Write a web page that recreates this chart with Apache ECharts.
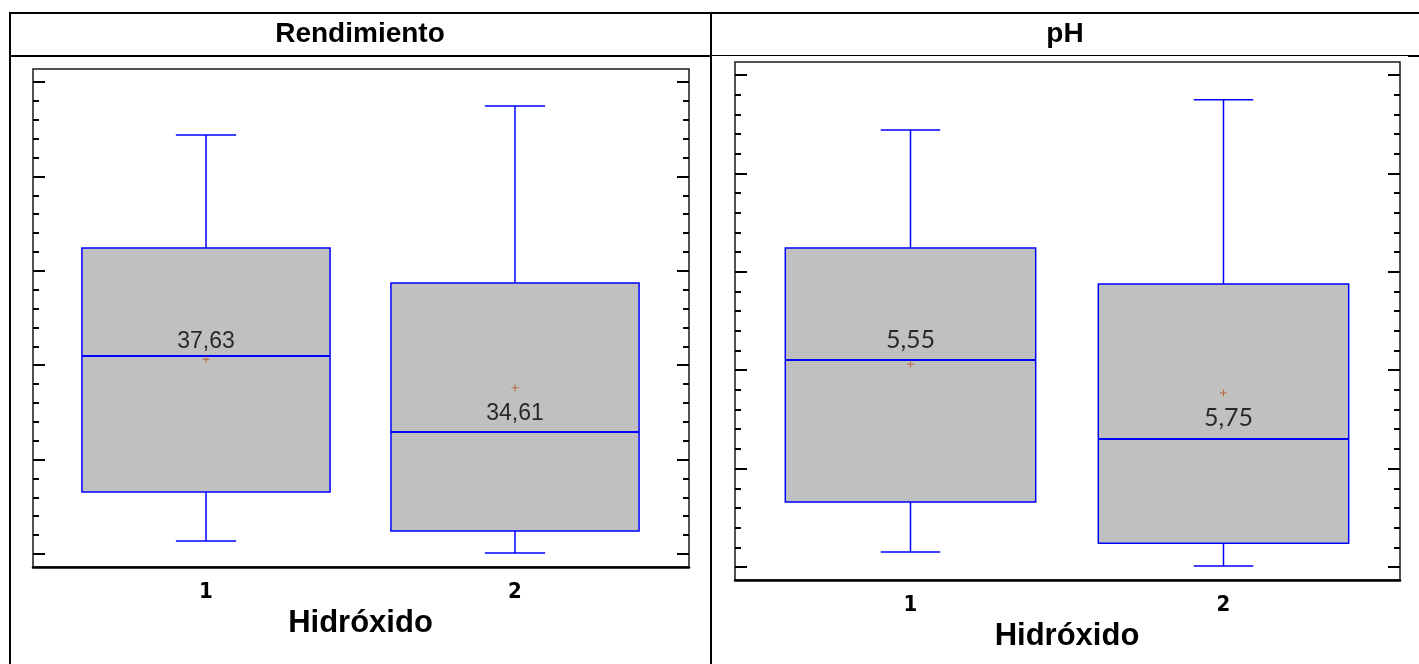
<!DOCTYPE html>
<html>
<head>
<meta charset="utf-8">
<script src="https://cdn.jsdelivr.net/npm/echarts@6/dist/echarts.min.js"></script>
<style>
  html, body { margin: 0; padding: 0; background: #ffffff; }
  #chart { width: 1419px; height: 664px; }
</style>
</head>
<body>
<div id="chart"></div>
<script>
// Groups on the horizontal axis
const hydroxides = ['1', '2'];

// Rendimiento: five-number summary per group, plus the group means
const rendLow    = [18.38, 17.11];
const rendQ1     = [23.57, 19.44];
const rendMedian = [37.97, 29.92];
const rendQ3     = [49.42, 45.71];
const rendHigh   = [61.39, 64.46];
const rendMean   = [37.63, 34.61];

// pH: five-number summary per group, plus the group means
const phLow    = [4.596, 4.525];
const phQ1     = [4.850, 4.641];
const phMedian = [5.572, 5.170];
const phQ3     = [6.141, 5.958];
const phHigh   = [6.741, 6.894];
const phMean   = [5.55, 5.404];
// Annotations written next to the pH mean markers
const phNotes  = ['5,55', '5,75'];

// Value-axis ranges (unlabelled scales, ticks only)
const rendRange = [17, 67, 10];
const phRange   = [4.52, 7.02, 0.5];

const panelTitles = ['Rendimiento', 'pH'];
const xTitle = 'Hidróxido';

const BLUE = '#0000ff';
const BOX_FILL = '#c0c0c0';
const MEAN_COLOR = '#b4541e';

function toComma(v) { return v.toFixed(2).replace('.', ','); }

function boxRows(low, q1, med, q3, high) {
  return hydroxides.map((c, i) => [i, low[i], q1[i], med[i], q3[i], high[i]]);
}

// Box-and-whisker drawn with short whisker caps
function boxRenderer(boxRatio, capRatio) {
  return function (params, api) {
    const i = api.value(0);
    const lo = api.coord([i, api.value(1)]);
    const q1 = api.coord([i, api.value(2)]);
    const md = api.coord([i, api.value(3)]);
    const q3 = api.coord([i, api.value(4)]);
    const hi = api.coord([i, api.value(5)]);
    const band = api.size([1, 0])[0];
    const hw = band * boxRatio / 2;
    const cw = band * capRatio / 2;
    const cx = md[0];
    const ln = { stroke: BLUE, lineWidth: 1.5 };
    return {
      type: 'group',
      children: [
        { type: 'line', shape: { x1: cx, y1: hi[1], x2: cx, y2: q3[1] }, style: ln },
        { type: 'line', shape: { x1: cx, y1: q1[1], x2: cx, y2: lo[1] }, style: ln },
        { type: 'line', shape: { x1: cx - cw, y1: hi[1], x2: cx + cw, y2: hi[1] }, style: ln },
        { type: 'line', shape: { x1: cx - cw, y1: lo[1], x2: cx + cw, y2: lo[1] }, style: ln },
        { type: 'rect', shape: { x: cx - hw, y: q3[1], width: hw * 2, height: q1[1] - q3[1] },
          style: { fill: BOX_FILL, stroke: BLUE, lineWidth: 1.5 } },
        { type: 'line', shape: { x1: cx - hw, y1: md[1], x2: cx + hw, y2: md[1] },
          style: { stroke: BLUE, lineWidth: 2 } }
      ]
    };
  };
}

const plusSymbol = 'path://M3,0L4,0L4,3L7,3L7,4L4,4L4,7L3,7L3,4L0,4L0,3L3,3Z';

function hiddenValueAxis(grid, extra) {
  return Object.assign({
    type: 'value', gridIndex: grid, show: true,
    axisLine: { show: false }, axisTick: { show: false },
    axisLabel: { show: false }, splitLine: { show: false }
  }, extra || {});
}

function tickAxis(grid, range, position) {
  return {
    type: 'value', gridIndex: grid, position: position,
    min: range[0], max: range[1], interval: range[2],
    axisLine: { show: false },
    axisLabel: { show: false },
    splitLine: { show: false },
    axisTick: { show: true, inside: true, length: 12, lineStyle: { color: '#000', width: 2 } },
    minorTick: { show: true, splitNumber: 5, length: 6, lineStyle: { color: '#000', width: 2 } }
  };
}

function categoryAxis(grid, labelMargin, nameGap) {
  return {
    type: 'category', gridIndex: grid, data: hydroxides, boundaryGap: true,
    axisLine: { show: false }, axisTick: { show: false }, splitLine: { show: false },
    axisLabel: {
      margin: labelMargin, color: '#000', fontSize: 22, fontWeight: 'bold',
      fontFamily: '"Liberation Sans Narrow", "DejaVu Sans Condensed", "Liberation Sans", sans-serif'
    },
    name: xTitle, nameLocation: 'middle', nameGap: nameGap,
    nameTextStyle: { color: '#000', fontSize: 31, fontWeight: 'bold',
      fontFamily: '"Liberation Sans", Arial, sans-serif' }
  };
}

const frameStyle = { show: true, borderColor: '#1a1a1a', borderWidth: 1.5, backgroundColor: 'transparent' };

const option = {
  backgroundColor: '#ffffff',
  animation: false,
  grid: [
    // Rendimiento panel: frame, tick band, data band
    Object.assign({ left: 33, top: 69, width: 656, height: 498 }, frameStyle),
    { left: 33, top: 82, width: 656, height: 472, show: false },
    { left: 51.5, top: 82, width: 618, height: 472, show: false },
    // pH panel
    Object.assign({ left: 735, top: 62, width: 665, height: 518 }, frameStyle),
    { left: 735, top: 75, width: 665, height: 492, show: false },
    { left: 754, top: 75, width: 626, height: 492, show: false }
  ],
  xAxis: [
    hiddenValueAxis(0, { position: 'bottom', axisLine: { show: true, onZero: false, lineStyle: { color: '#000', width: 2.5 } } }),
    hiddenValueAxis(1),
    categoryAxis(2, 27, 49),
    hiddenValueAxis(3, { position: 'bottom', axisLine: { show: true, onZero: false, lineStyle: { color: '#000', width: 2.5 } } }),
    hiddenValueAxis(4),
    categoryAxis(5, 27, 48)
  ],
  yAxis: [
    hiddenValueAxis(0),
    tickAxis(1, rendRange, 'left'),
    tickAxis(1, rendRange, 'right'),
    hiddenValueAxis(2, { min: rendRange[0], max: rendRange[1], interval: rendRange[2] }),
    hiddenValueAxis(3),
    tickAxis(4, phRange, 'left'),
    tickAxis(4, phRange, 'right'),
    hiddenValueAxis(5, { min: phRange[0], max: phRange[1], interval: phRange[2] })
  ],
  series: [
    {
      name: panelTitles[0], type: 'custom', xAxisIndex: 2, yAxisIndex: 3,
      renderItem: boxRenderer(0.803, 0.195),
      encode: { x: 0, y: [1, 2, 3, 4, 5] },
      data: boxRows(rendLow, rendQ1, rendMedian, rendQ3, rendHigh),
      z: 2
    },
    {
      type: 'scatter', xAxisIndex: 2, yAxisIndex: 3,
      symbol: plusSymbol, symbolSize: 7,
      itemStyle: { color: MEAN_COLOR },
      data: rendMean.map((v, i) => ({
        value: [i, v],
        label: i === 0 ? { position: 'top', distance: 3 } : { position: 'bottom', distance: 11 }
      })),
      label: {
        show: true, color: '#000', fontSize: 23,
        fontFamily: '"Liberation Sans", Arial, sans-serif',
        formatter: p => toComma(p.value[1])
      },
      z: 5
    },
    {
      name: panelTitles[1], type: 'custom', xAxisIndex: 5, yAxisIndex: 7,
      renderItem: boxRenderer(0.8, 0.19),
      encode: { x: 0, y: [1, 2, 3, 4, 5] },
      data: boxRows(phLow, phQ1, phMedian, phQ3, phHigh),
      z: 2
    },
    {
      type: 'scatter', xAxisIndex: 5, yAxisIndex: 7,
      symbol: plusSymbol, symbolSize: 7,
      itemStyle: { color: MEAN_COLOR },
      data: phMean.map((v, i) => ({
        value: [i, v],
        label: i === 0 ? { position: 'top', distance: 8 } : { position: 'bottom', distance: 9, offset: [5, 0] }
      })),
      label: {
        show: true, color: '#000', fontSize: 25,
        fontFamily: 'Lato, "Open Sans", sans-serif',
        formatter: p => phNotes[p.dataIndex]
      },
      z: 5
    }
  ],
  graphic: [
    // Table rules around the two panels
    { type: 'line', shape: { x1: 10, y1: 12, x2: 10, y2: 664 }, style: { stroke: '#000', lineWidth: 2 } },
    { type: 'line', shape: { x1: 9, y1: 13, x2: 1419, y2: 13 }, style: { stroke: '#000', lineWidth: 2 } },
    { type: 'line', shape: { x1: 9, y1: 56, x2: 712, y2: 56 }, style: { stroke: '#000', lineWidth: 2 } },
    { type: 'line', shape: { x1: 712, y1: 55.5, x2: 1408, y2: 55.5 }, style: { stroke: '#000', lineWidth: 1 } },
    { type: 'line', shape: { x1: 1408, y1: 56, x2: 1419, y2: 56 }, style: { stroke: '#000', lineWidth: 2 } },
    { type: 'line', shape: { x1: 711, y1: 12, x2: 711, y2: 664 }, style: { stroke: '#000', lineWidth: 2 } },
    // Panel headers
    { type: 'text', x: 360, y: 34, style: { text: panelTitles[0], fill: '#000', textAlign: 'center', textVerticalAlign: 'middle',
      font: 'bold 28px "Liberation Sans", Arial, sans-serif' } },
    { type: 'text', x: 1065, y: 34, style: { text: panelTitles[1], fill: '#000', textAlign: 'center', textVerticalAlign: 'middle',
      font: 'bold 28px "Liberation Sans", Arial, sans-serif' } }
  ]
};

const chart = echarts.init(document.getElementById('chart'), null, { renderer: 'canvas' });
chart.setOption(option);
</script>
</body>
</html>
